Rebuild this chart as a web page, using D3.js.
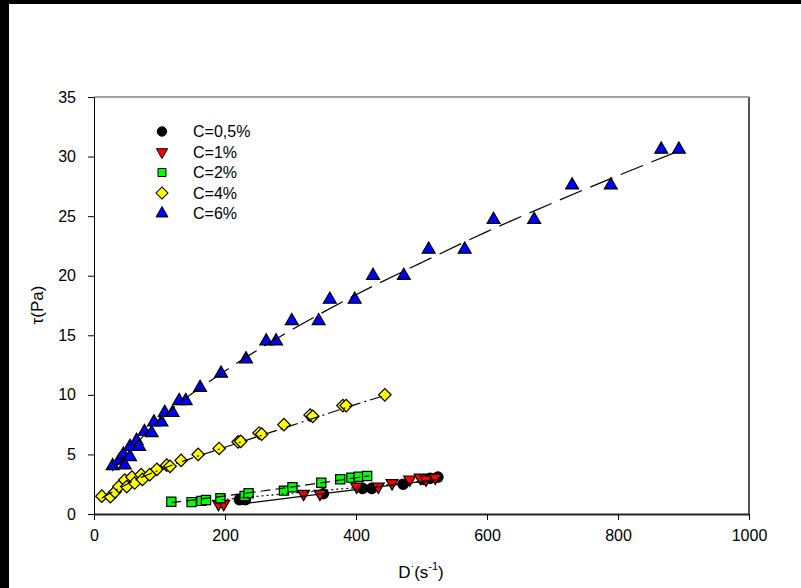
<!DOCTYPE html>
<html><head><meta charset="utf-8">
<script src="https://cdn.jsdelivr.net/npm/d3@7"></script>
<style>
html,body{margin:0;padding:0;background:#fff;}
svg{display:block;}
text{font-family:Arial,"Liberation Sans",sans-serif;fill:#000;}
</style></head>
<body>
<svg id="chart" width="801" height="588"></svg>
<script>
// ---- data (D in s^-1, tau in Pa) ----
const seriesNames = ["C=0,5%", "C=1%", "C=2%", "C=4%", "C=6%"];
const c05 = [[222,1.2],[231,1.2],[350,1.7],[410,2.15],[424,2.15],[472,2.5],[503,2.9],[513,3.0],[525,3.1]];
const c1  = [[190,0.85],[198,0.85],[320,1.7],[345,1.7],[401,2.3],[434,2.3],[455,2.6],[482,2.9],[498,3.05],[507,2.9],[521,3.05]];
const c2  = [[118,1.03],[149,1.0],[164,1.1],[171,1.17],[193,1.32],[230,1.52],[236,1.74],[290,1.96],[303,2.24],[347,2.63],[376,2.91],[393,3.05],[404,3.13],[417,3.19]];
const c4  = [[12,1.5],[25,1.45],[32,1.85],[38,2.3],[47,2.85],[50,2.3],[58,3.1],[62,2.6],[72,3.3],[74,2.9],[85,3.3],[96,3.75],[111,4.1],[116,4.0],[133,4.5],[159,5.0],[191,5.5],[220,6.05],[224,6.1],[252,6.8],[256,6.7],[290,7.5],[330,8.3],[334,8.2],[380,9.1],[385,9.1],[444,10.0]];
const c6  = [[28.5,4.03],[38.6,4.5],[47,4.1],[44.8,5.0],[55,4.8],[55,5.65],[65,6.15],[69,5.65],[77,6.9],[88,6.8],[91.6,7.7],[103,7.7],[108,8.5],[120,8.5],[130,9.5],[140,9.5],[162,10.6],[194,11.8],[232,13.0],[263,14.5],[278,14.5],[302,16.2],[343,16.2],[360,18.0],[398,18.0],[426,20.0],[473,20.0],[511,22.2],[566,22.2],[610,24.7],[672,24.7],[730,27.6],[789,27.6],[866,30.6],[893,30.6]];
// fitted curves
const fit05 = [[225,0.85],[375,1.87],[525,2.9]];
const fit1  = [[195,1.2],[243,1.45],[406,2.24],[521,2.8]];
const fit2  = [[118,0.95],[260,1.95],[420,3.2]];
const fit4  = [[12,1.35],[50,2.5],[100,3.7],[150,4.7],[200,5.6],[250,6.5],[300,7.4],[350,8.3],[400,9.2],[444,9.95]];
const fit6  = [[28,3.6],[100,7.9],[200,12.0],[300,15.4],[400,18.4],[500,21.1],[600,23.7],[700,26.1],[800,28.4],[899,30.6]];
const xTicks = [0,200,400,600,800,1000];
const yTicks = [0,5,10,15,20,25,30,35];

const svg = d3.select("#chart");
// black frame strips of the original capture
svg.append("rect").attr("x",0).attr("y",0).attr("width",801).attr("height",4).attr("fill","#000");
svg.append("rect").attr("x",0).attr("y",0).attr("width",9).attr("height",588).attr("fill","#000");

const x = d3.scaleLinear().domain([0,1000]).range([94,749]);
const y = d3.scaleLinear().domain([0,35]).range([514,97]);

// frame (top and right)
svg.append("line").attr("x1",94).attr("x2",749).attr("y1",97).attr("y2",97).attr("stroke","#444").attr("stroke-width",1);
svg.append("line").attr("x1",749).attr("x2",749).attr("y1",97).attr("y2",514).attr("stroke","#555").attr("stroke-width",2);

// axes
const gx = svg.append("g").attr("transform","translate(0,514)")
  .call(d3.axisBottom(x).tickValues(xTicks).tickSize(6).tickSizeOuter(0).tickPadding(10).tickFormat(d3.format("d")));
const gy = svg.append("g").attr("transform","translate(94,0)")
  .call(d3.axisLeft(y).tickValues(yTicks).tickSize(6).tickSizeOuter(0).tickPadding(12).tickFormat(d3.format("d")));
gx.select(".domain").attr("stroke","#222").attr("stroke-width",2);
gy.select(".domain").attr("stroke","#000").attr("stroke-width",1);
[gx,gy].forEach(g=>{
  g.selectAll(".tick line").attr("stroke","#000");
  g.selectAll(".tick text").style("font-size","16px").style("font-family","Arial, 'Liberation Sans', sans-serif").attr("fill","#000");
});

// markers
const styles = [
  {data:c05, fill:"#000000", sym:d3.symbolCircle, size:85, rot:0},
  {data:c1,  fill:"#ff0000", sym:d3.symbolTriangle, size:62, rot:180},
  {data:c2,  fill:"#00ff00", sym:d3.symbolSquare, size:85, rot:0},
  {data:c4,  fill:"#ffff00", sym:d3.symbolSquare, size:78, rot:45},
  {data:c6,  fill:"#0000ff", sym:d3.symbolTriangle, size:72, rot:0}
];
const plot = svg.append("g");
styles.forEach(s=>{
  const p = d3.symbol().type(s.sym).size(s.size)();
  plot.append("g").selectAll("path").data(s.data).join("path")
    .attr("d",p)
    .attr("transform",d=>`translate(${x(d[0])},${y(d[1])}) rotate(${s.rot})`)
    .attr("fill",s.fill).attr("stroke","#000").attr("stroke-width",1.2);
});

// fit lines
const line = d3.line().x(d=>x(d[0])).y(d=>y(d[1])).curve(d3.curveMonotoneX);
const fits = [
  {data:fit05, dash:null},
  {data:fit1, dash:"2,3"},
  {data:fit2, dash:"10,5"},
  {data:fit4, dash:"12,4,2,4"},
  {data:fit6, dash:"24,9"}
];
fits.forEach(f=>{
  const pth = svg.append("path").attr("d",line(f.data)).attr("fill","none").attr("stroke","#000").attr("stroke-width",1.2);
  if (f.dash) pth.attr("stroke-dasharray",f.dash);
});

// legend
const legendSizes = [70,55,64,72,62];
const lg = svg.append("g");
styles.forEach((s,i)=>{
  const yy = 131.5 + i*20.5;
  lg.append("path").attr("d",d3.symbol().type(s.sym).size(legendSizes[i])())
    .attr("transform",`translate(162,${yy}) rotate(${s.rot})`)
    .attr("fill",s.fill).attr("stroke","#000").attr("stroke-width",1);
  lg.append("text").attr("x",193).attr("y",yy).attr("dy","0.35em")
    .style("font-size","16px").text(seriesNames[i]);
});

// axis titles
const xt = svg.append("text").attr("x",421).attr("y",578).attr("text-anchor","middle").style("font-size","17px");
xt.append("tspan").text("D");
xt.append("tspan").attr("dy","-8").style("font-size","11px").text("·");
xt.append("tspan").attr("dy","8").text("(s");
xt.append("tspan").attr("dy","-8").style("font-size","11px").text("-1");
xt.append("tspan").attr("dy","8").text(")");

svg.append("text").attr("transform","translate(37,305) rotate(-90)").attr("text-anchor","middle")
  .attr("dy","0.35em").style("font-size","17px").text("τ(Pa)");
</script>
</body></html>
